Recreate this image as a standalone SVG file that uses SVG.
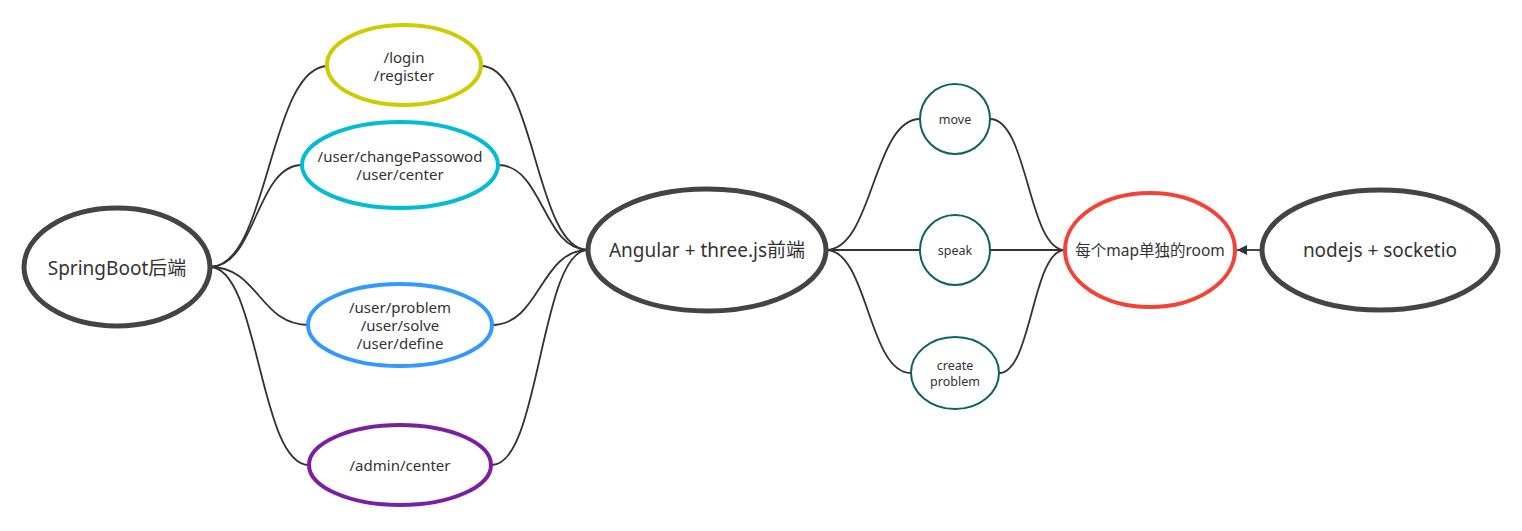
<svg xmlns="http://www.w3.org/2000/svg" width="1522" height="531" viewBox="0 0 1522 531">
<defs>
<style>
text{font-family:"Noto Sans","Noto Sans CJK SC",sans-serif;fill:#333;text-anchor:middle;dominant-baseline:central}
.big{font-size:19px}
.mid{font-size:15px}
.room{font-size:15.5px}
.sm{font-size:12.5px}
.main{fill:#fff;stroke:#444;stroke-width:5}
.conn path{fill:none;stroke:#333;stroke-width:1.8}
.teal{fill:#fff;stroke:#0e625f;stroke-width:2}
</style>
<marker id="arr" viewBox="0 0 10 10" refX="10" refY="5" markerWidth="10" markerHeight="10" markerUnits="userSpaceOnUse" orient="auto">
<path d="M0,0 L10,5 L0,10 z" fill="#333"/>
</marker>
</defs>
<rect width="1522" height="531" fill="#fff"/>
<g id="connectors" class="conn">
<path d="M210,267 C269,267 269,66 328,66"/>
<path d="M210,267 C256,267 256,165 302,165"/>
<path d="M210,267 C259,267 259,325 309,325"/>
<path d="M210,267 C259,267 259,465 309,465"/>
<path d="M481,66 C535,66 535,250 588,250"/>
<path d="M498,165 C543,165 543,250 588,250"/>
<path d="M492,325 C540,325 540,250 588,250"/>
<path d="M492,465 C540,465 540,250 588,250"/>
<path d="M826,250 C873,250 873,119 920,119"/>
<path d="M826,250 C873,250 873,250 920,250"/>
<path d="M826,250 C868,250 868,373 911,373"/>
<path d="M990,119 C1028,119 1028,250 1065,250"/>
<path d="M990,250 C1028,250 1028,250 1065,250"/>
<path d="M999,373 C1032,373 1032,250 1065,250"/>
<path d="M1262,250 L1237,250" marker-end="url(#arr)"/>
</g>
<g id="springboot">
<ellipse class="main" cx="117" cy="267" rx="93" ry="59"/>
<text class="big" x="117" y="268">SpringBoot后端</text>
</g>
<g id="login">
<ellipse cx="404" cy="65" rx="77" ry="40" fill="#fff" stroke="#cccc00" stroke-width="4"/>
<text class="mid" x="404" y="57">/login</text>
<text class="mid" x="404" y="75">/register</text>
</g>
<g id="user-center">
<ellipse cx="400" cy="165" rx="98" ry="43" fill="#fff" stroke="#00bcd4" stroke-width="4"/>
<text class="mid" x="400" y="156">/user/changePassowod</text>
<text class="mid" x="400" y="174">/user/center</text>
</g>
<g id="user-problem">
<ellipse cx="400" cy="325" rx="92" ry="41" fill="#fff" stroke="#3399ff" stroke-width="4"/>
<text class="mid" x="400" y="307">/user/problem</text>
<text class="mid" x="400" y="325">/user/solve</text>
<text class="mid" x="400" y="343">/user/define</text>
</g>
<g id="admin">
<ellipse cx="400" cy="465" rx="91" ry="40" fill="#fff" stroke="#7b1fa2" stroke-width="4"/>
<text class="mid" x="400" y="465">/admin/center</text>
</g>
<g id="angular">
<ellipse class="main" cx="707" cy="250" rx="119" ry="61"/>
<text class="big" x="707" y="250">Angular + three.js前端</text>
</g>
<g id="move">
<ellipse class="teal" cx="955" cy="119" rx="35" ry="35"/>
<text class="sm" x="955" y="119">move</text>
</g>
<g id="speak">
<ellipse class="teal" cx="955" cy="250" rx="35" ry="35"/>
<text class="sm" x="955" y="250">speak</text>
</g>
<g id="create-problem">
<ellipse class="teal" cx="955" cy="373" rx="44" ry="36"/>
<text class="sm" x="955" y="365">create</text>
<text class="sm" x="955" y="381">problem</text>
</g>
<g id="room">
<ellipse cx="1150" cy="250" rx="85" ry="57" fill="#fff" stroke="#f44336" stroke-width="4"/>
<text class="room" x="1150" y="250">每个map单独的room</text>
</g>
<g id="nodejs">
<ellipse class="main" cx="1380" cy="250" rx="118" ry="60"/>
<text class="big" x="1380" y="250">nodejs + socketio</text>
</g>
</svg>
